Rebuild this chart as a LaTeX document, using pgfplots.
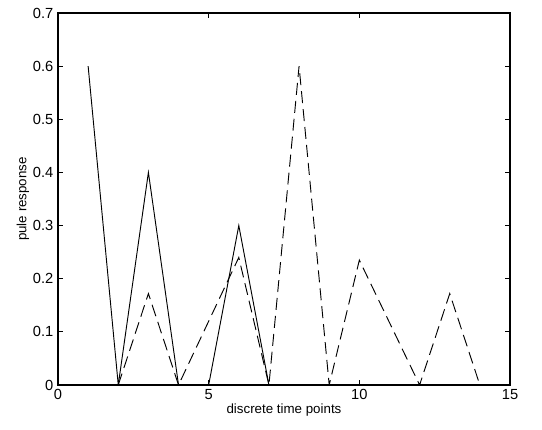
\documentclass[border=0pt]{standalone}
\usepackage{fontspec}
\setmainfont{Liberation Sans}
\usepackage{pgfplots}
\pgfplotsset{compat=1.18}
\begin{document}
\begin{tikzpicture}[x=1pt,y=1pt]
\begin{axis}[
  name=ax,
  scale only axis,
  width=339pt, height=279pt,
  xmin=0, xmax=15, ymin=0, ymax=0.7,
  xtick={0,5,10,15},
  ytick={0,0.1,0.2,0.3,0.4,0.5,0.6,0.7},
  yticklabel style={/pgf/number format/.cd,fixed,precision=1,fixed zerofill=false},
  /pgf/number format/assume math mode=true,
  tick align=inside,
  major tick length=4pt,
  tick style={black, line width=0.6pt},
  axis line style={line width=0.8pt},
  ticklabel style={font=\fontsize{11}{13}\selectfont},
  xlabel={discrete time points},
  ylabel={pule response},
  label style={font=\fontsize{10}{12}\selectfont},
  xlabel style={yshift=4pt},
  ylabel style={yshift=-4pt},
]
\addplot[black, line width=0.7pt] coordinates {
 (1,0.6) (2,0) (3,0.4) (4,0) (5,0) (6,0.3) (7,0) (8,0) (9,0) (10,0) (11,0) (12,0) (13,0) (14,0) (15,0)
};
\addplot[black, line width=0.7pt, dash pattern=on 9pt off 4.5pt] coordinates {
 (2,0) (3,0.172) (4,0) (5,0.12) (6,0.24) (7,0) (8,0.6) (9,0) (10,0.235) (11,0.1175) (12,0) (13,0.172) (14,0) (15,0)
};
\end{axis}
\pgfresetboundingbox
\useasboundingbox ([xshift=-43.5pt,yshift=-33.75pt]ax.south west) rectangle ([xshift=24pt,yshift=9.75pt]ax.north east);
\end{tikzpicture}
\end{document}
